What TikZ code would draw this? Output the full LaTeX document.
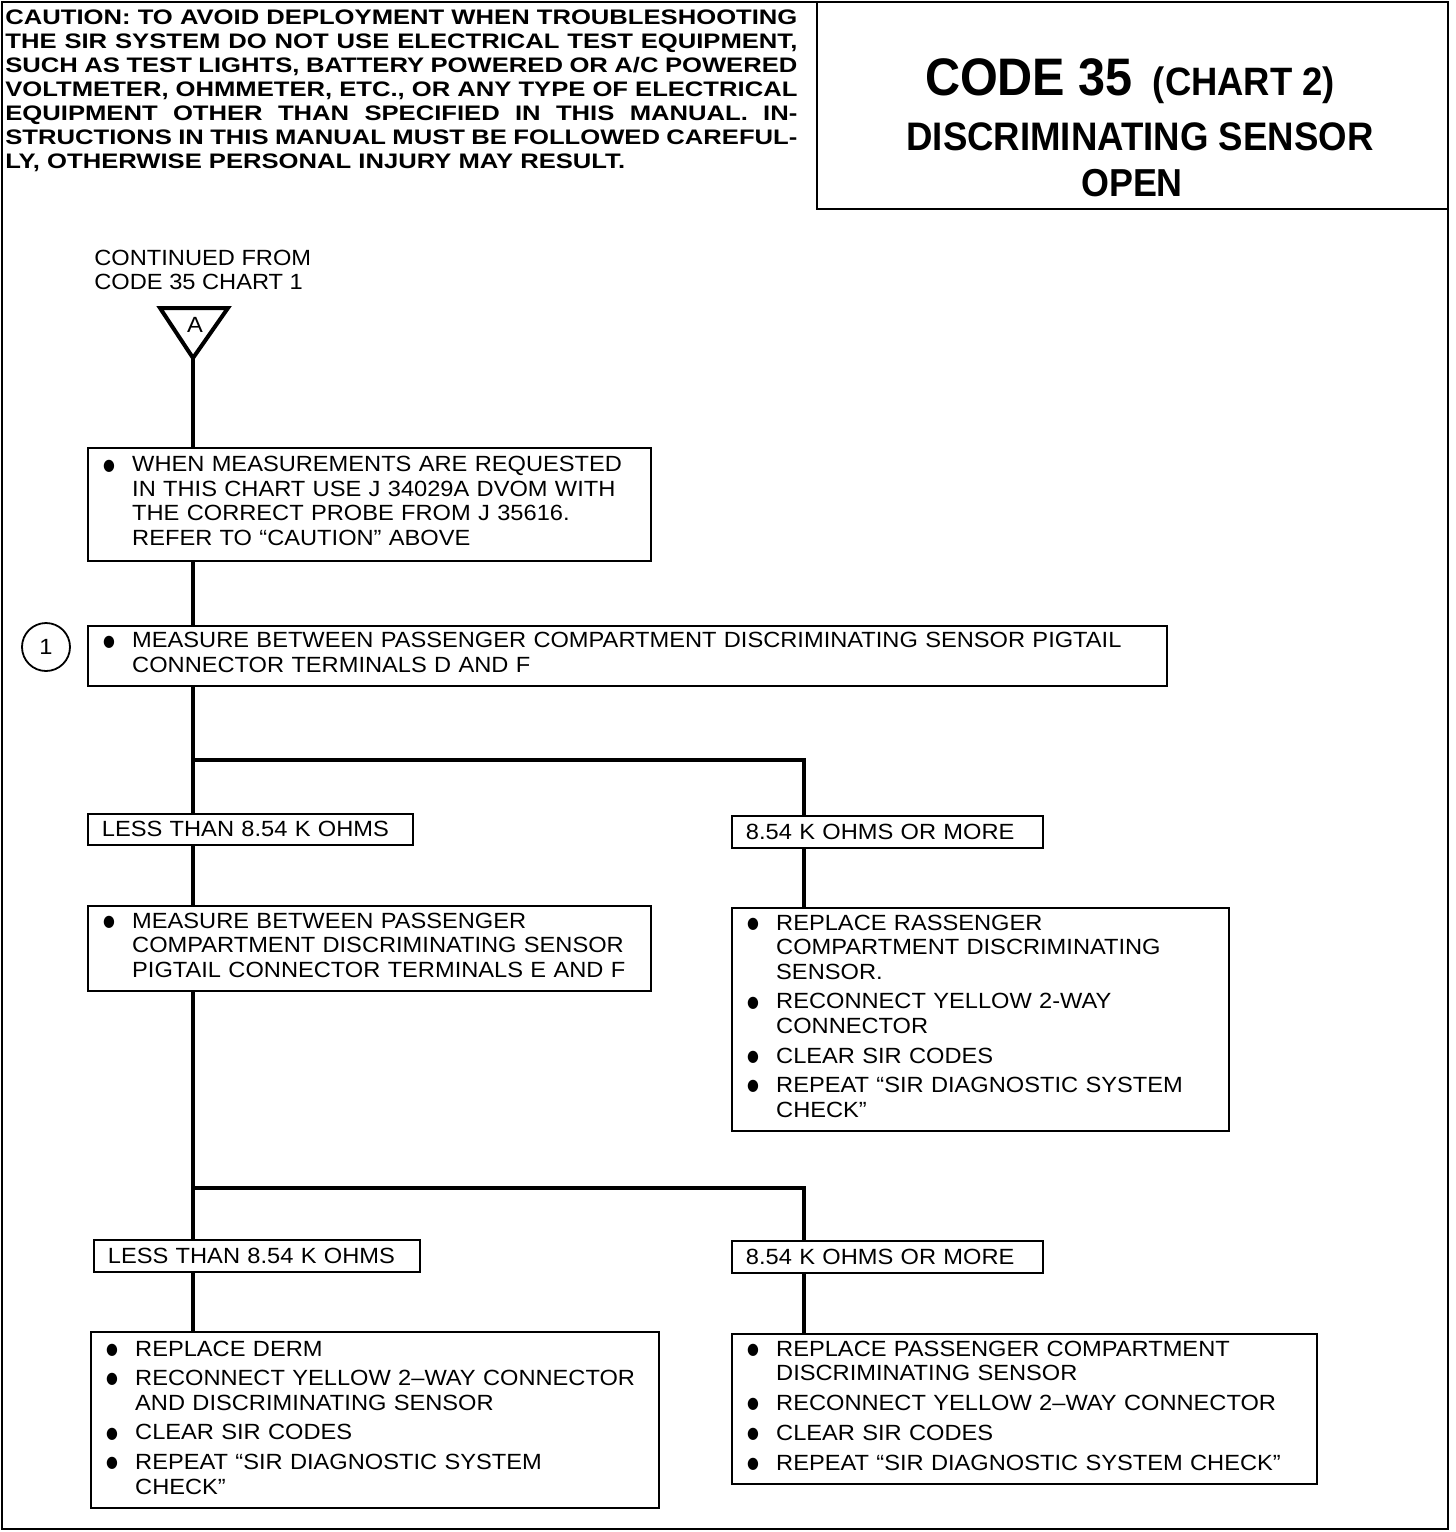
\documentclass[tikz,border=0pt]{standalone}
\usepackage{fontspec}
\setmainfont{Liberation Sans}[FakeStretch=1.075]
\newfontfamily\cautionfont{Liberation Sans}[FakeStretch=1.22]
\newfontfamily\titlefont{Liberation Sans}[FakeStretch=0.92]
\newfontfamily\symfont{DejaVu Sans}[FakeStretch=0.85]
\newcommand\bul{\raisebox{0.9pt}{\symfont\fontsize{8pt}{8pt}\selectfont ●}}
\newcommand\bitem[1]{\noindent\makebox[14pt][l]{\hspace{-0.5pt}\bul}\parbox[t]{\dimexpr\hsize-14pt\relax}{#1\strut}\par\prevdepth=\dp\strutbox}
\newcommand\igap{\vskip 2.6pt}
\tikzset{
  body/.style={font=\fontsize{11pt}{12.25pt}\selectfont},
  box/.style={draw, line width=1.2pt, anchor=north west, inner xsep=8pt, inner ysep=0pt, align=left, body},
  lab/.style={draw, line width=0.9pt, anchor=north west, inner xsep=7pt, inner ysep=0pt, align=left, body},
  conn/.style={line width=2.1pt},
}
\begin{document}
\begin{tikzpicture}[x=0.5pt,y=-0.5pt]
\useasboundingbox (0,0) rectangle (1456,1532);
% frames
\draw[line width=1pt] (2,2) rectangle (1448,1529);
\draw[line width=1pt] (817,2) -- (817,209) -- (1448,209);
% caution
\node[anchor=base west, inner sep=0pt] (caution) at (5,24) {\parbox[t]{396pt}{\cautionfont\bfseries\fontsize{10.5pt}{12pt}\selectfont
\makebox[\linewidth][s]{CAUTION: TO AVOID DEPLOYMENT WHEN TROUBLESHOOTING}\\
\makebox[\linewidth][s]{THE SIR SYSTEM DO NOT USE ELECTRICAL TEST EQUIPMENT,}\\
\makebox[\linewidth][s]{SUCH AS TEST LIGHTS, BATTERY POWERED OR A/C POWERED}\\
\makebox[\linewidth][s]{VOLTMETER, OHMMETER, ETC., OR ANY TYPE OF ELECTRICAL}\\
\makebox[\linewidth][s]{EQUIPMENT OTHER THAN SPECIFIED IN THIS MANUAL. IN-}\\
\makebox[\linewidth][s]{STRUCTIONS IN THIS MANUAL MUST BE FOLLOWED CAREFUL-}\\
LY, OTHERWISE PERSONAL INJURY MAY RESULT.}};
% title
\node[anchor=base, inner sep=0pt] (t1) at (1130,95) {\titlefont\bfseries{\fontsize{26.4pt}{30pt}\selectfont CODE 35}\hspace{10pt}{\fontsize{19.8pt}{22pt}\selectfont (CHART 2)}};
\node[anchor=base, inner sep=0pt] (t2) at (1140,150) {\titlefont\bfseries\fontsize{19.9pt}{22pt}\selectfont DISCRIMINATING SENSOR};
\node[anchor=base, inner sep=0pt] (t3) at (1132,196) {\titlefont\bfseries\fontsize{19.5pt}{22pt}\selectfont OPEN};
% continued
\node[anchor=base west, inner sep=0pt, body] (cont) at (94,265) {\parbox[t]{150pt}{\baselineskip=12pt CONTINUED FROM\\CODE 35 CHART 1}};
% triangle
\draw[line width=2pt] (160,308) -- (228,308) -- (193,358) -- cycle;
\coordinate (tip) at (193,358);
\node[body, inner sep=0pt] (lA) at (195,325) {A};
% circle 1
\node[draw, circle, line width=0.9pt, minimum size=24pt, inner sep=0pt, body] (c1) at (46,647) {1};
% boxes
\node[box, text width=265.5pt, minimum height=56.5pt] (b1) at (87,447) {%
\bitem{WHEN MEASUREMENTS ARE REQUESTED\\IN THIS CHART USE J 34029A DVOM WITH\\THE CORRECT PROBE FROM J 35616.\\REFER TO “CAUTION” ABOVE}};
\node[box, text width=523.5pt, minimum height=30pt] (b2) at (87,625) {%
\bitem{MEASURE BETWEEN PASSENGER COMPARTMENT DISCRIMINATING SENSOR PIGTAIL\\CONNECTOR TERMINALS D AND F}};
\node[lab, text width=148.5pt, minimum height=15.5pt] (l1) at (87,813) {LESS THAN 8.54 K OHMS};
\node[lab, text width=141.5pt, minimum height=16pt] (r1) at (731,815) {8.54 K OHMS OR MORE};
\node[box, text width=265.5pt, minimum height=42.5pt] (b3) at (87,905) {%
\bitem{MEASURE BETWEEN PASSENGER\\COMPARTMENT DISCRIMINATING SENSOR\\PIGTAIL CONNECTOR TERMINALS E AND F}};
\node[box, text width=232.5pt, minimum height=111.5pt] (b4) at (731,907) {%
\bitem{REPLACE RASSENGER\\COMPARTMENT DISCRIMINATING\\SENSOR.}\igap
\bitem{RECONNECT YELLOW 2-WAY\\CONNECTOR}\igap
\bitem{CLEAR SIR CODES}\igap
\bitem{REPEAT “SIR DIAGNOSTIC SYSTEM\\CHECK”}};
\node[lab, text width=149pt, minimum height=16pt] (l2) at (93,1239) {LESS THAN 8.54 K OHMS};
\node[lab, text width=141.5pt, minimum height=16pt] (r2) at (731,1240) {8.54 K OHMS OR MORE};
\node[box, text width=268pt, minimum height=88pt] (b5) at (90,1331) {%
\bitem{REPLACE DERM}\igap
\bitem{RECONNECT YELLOW 2–WAY CONNECTOR\\AND DISCRIMINATING SENSOR}\igap
\bitem{CLEAR SIR CODES}\igap
\bitem{REPEAT “SIR DIAGNOSTIC SYSTEM\\CHECK”}};
\node[box, text width=276.5pt, minimum height=75pt] (b6) at (731,1333) {%
\bitem{REPLACE PASSENGER COMPARTMENT\\DISCRIMINATING SENSOR}\igap
\bitem{RECONNECT YELLOW 2–WAY CONNECTOR}\igap
\bitem{CLEAR SIR CODES}\igap
\bitem{REPEAT “SIR DIAGNOSTIC SYSTEM CHECK”}};
% connectors
\coordinate (j1) at (193,760);
\coordinate (rx) at (804,760);
\coordinate (j2) at (193,1188);
\draw[conn] (tip) -- (tip |- b1.north);
\draw[conn] (tip |- b1.south) -- (tip |- b2.north);
\draw[conn] (tip |- b2.south) -- (tip |- l1.north);
\draw[conn] (j1) -| (rx |- r1.north);
\draw[conn] (tip |- l1.south) -- (tip |- b3.north);
\draw[conn] (rx |- r1.south) -- (rx |- b4.north);
\draw[conn] (tip |- b3.south) -- (tip |- l2.north);
\draw[conn] (j2) -| (rx |- r2.north);
\draw[conn] (tip |- l2.south) -- (tip |- b5.north);
\draw[conn] (rx |- r2.south) -- (rx |- b6.north);
\end{tikzpicture}
\end{document}
